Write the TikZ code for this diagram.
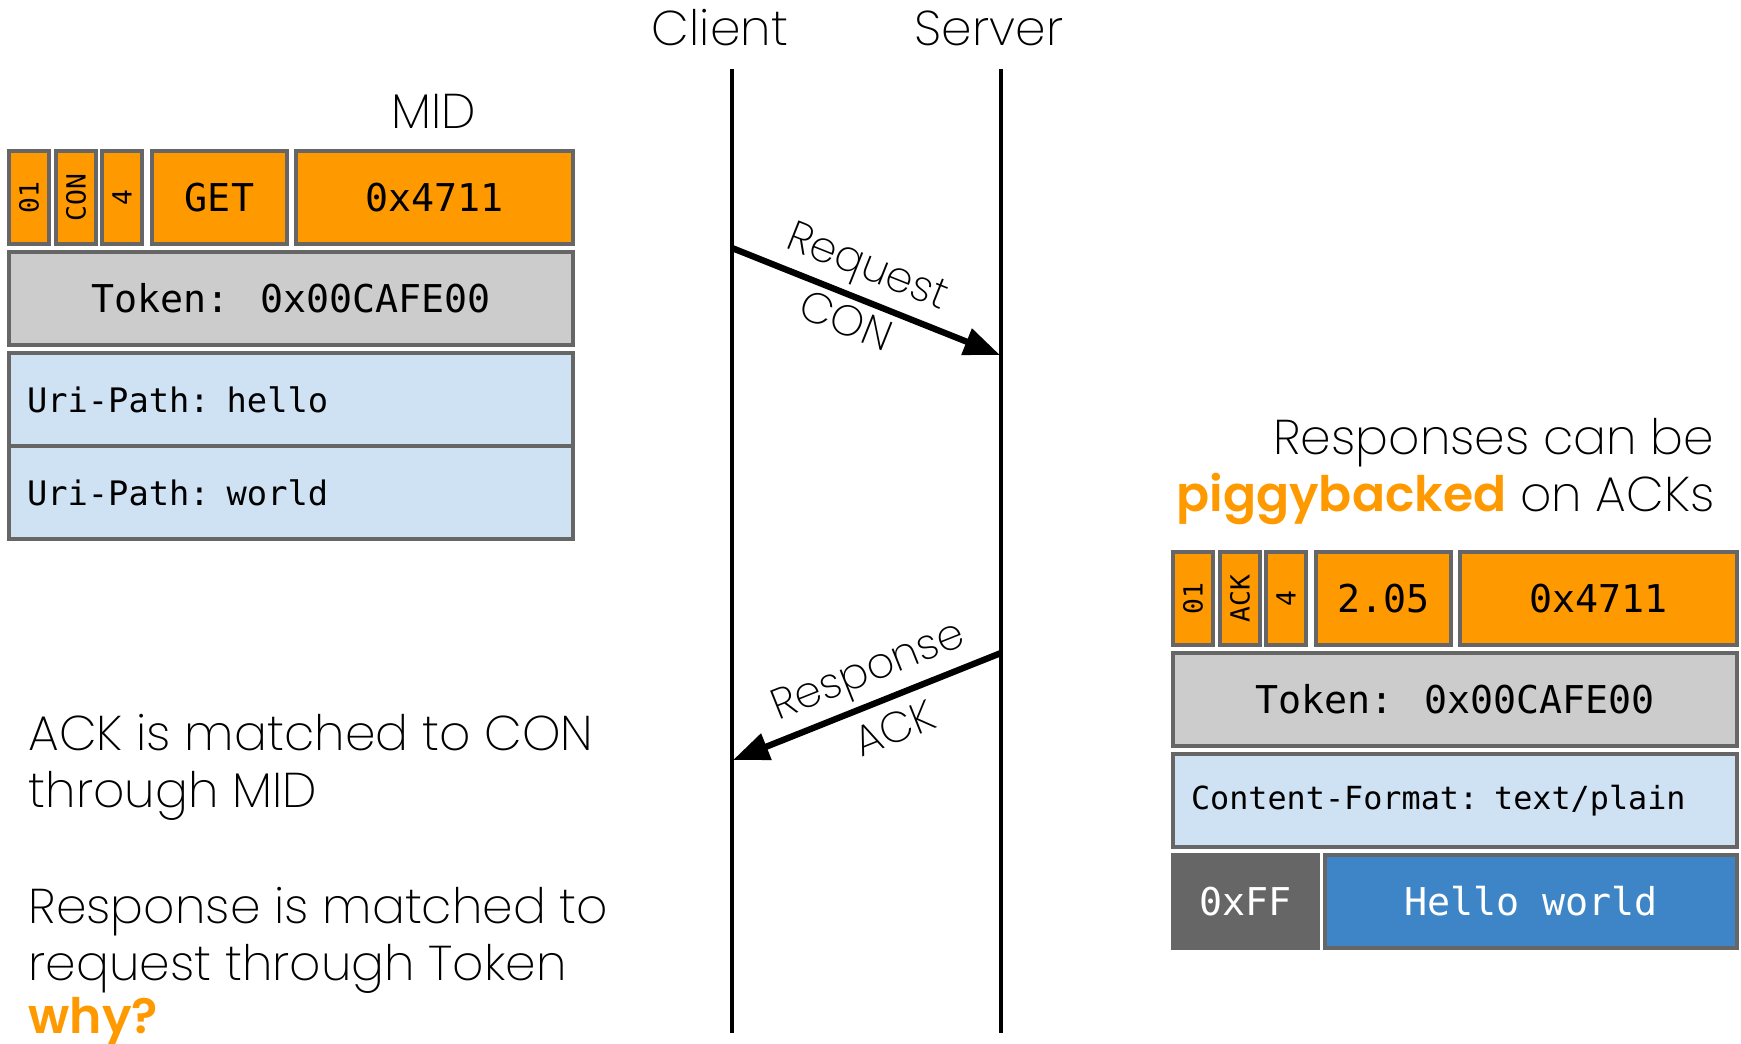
\documentclass[tikz,border=0pt]{standalone}
\usepackage{fontspec}
\setmainfont{Poppins ExtraLight}[BoldFont=Poppins SemiBold]
\newfontfamily\monofont{DejaVu Sans Mono}
\usepackage{graphicx}
\usepackage{tikz}
\usetikzlibrary{arrows.meta}
\definecolor{fieldorange}{HTML}{FF9900}
\definecolor{tokengray}{HTML}{CCCCCC}
\definecolor{optblue}{HTML}{CFE2F3}
\definecolor{edgegray}{HTML}{666666}
\definecolor{payblue}{HTML}{3D85C6}

\begin{document}
\begin{tikzpicture}[x=0.1mm,y=-0.1mm]
\tikzstyle{every node}+=[inner sep=0pt]
\tikzstyle{talk}=[font=\fontsize{13.9}{16.4}\selectfont]
\tikzstyle{msgtext}=[font=\fontsize{12.2}{14}\selectfont, sloped]
\tikzstyle{lifeline}=[line width=1pt]
\tikzstyle{msg}=[line width=1.8pt, -{Triangle[length=3.6mm,width=2.7mm]}]
\tikzstyle{field}=[draw=edgegray, line width=1.1pt, fill=fieldorange, minimum height=9.3mm, font=\monofont\fontsize{10.9}{13}\selectfont]
\tikzstyle{bits}=[field, minimum width=4mm, font=\monofont\fontsize{7.5}{9}\selectfont]
\tikzstyle{tokenfield}=[field, fill=tokengray, minimum width=56.4mm]
\tikzstyle{option}=[field, fill=optblue, text width=52.8mm, inner xsep=1.8mm, align=left, font=\monofont\fontsize{9.6}{11}\selectfont]
\useasboundingbox (0,0) rectangle (1741,1044);

\node[talk] (client) at (720,28) {Client};
\node[talk] (server) at (989,28) {Server};
\coordinate (clientTop) at (732,69);
\coordinate (clientEnd) at (732,1033);
\coordinate (serverTop) at (1001,69);
\coordinate (serverEnd) at (1001,1033);
\draw[lifeline] (clientTop) -- (clientEnd);
\draw[lifeline] (serverTop) -- (serverEnd);

\coordinate (reqFrom) at (732,248);
\coordinate (reqTo) at (1000,355);
\coordinate (ackFrom) at (1001,653);
\coordinate (ackTo) at (733,760);
\draw[msg] (reqFrom) -- node[msgtext, pos=0.46, above, inner sep=0.6mm] (reqname) {Request}
  node[msgtext, pos=0.46, below, inner sep=0.6mm] (reqtype) {CON} (reqTo);
\draw[msg] (ackFrom) -- node[msgtext, pos=0.45, above, inner sep=0.6mm] (ackname) {Response}
  node[msgtext, pos=0.44, below, inner sep=1.2mm] (acktype) {ACK} (ackTo);

\node[talk] (midtitle) at (434,111) {MID};
\node[bits] (reqver) at (29,197.5) {\rotatebox{90}{01}};
\node[bits] (reqtyp) at (76,197.5) {\rotatebox{90}{CON}};
\node[bits] (reqtkl) at (122,197.5) {\rotatebox{90}{4}};
\node[field, minimum width=13.5mm] (reqcode) at (219.5,197.5) {GET};
\node[field, minimum width=27.7mm] (reqmid) at (434.5,197.5) {0x4711};
\node[tokenfield] (reqtoken) at (291,298.5) {Token: 0x00CAFE00};
\node[option] (requri1) at (291,399.5) {Uri-Path: hello};
\node[option] (requri2) at (291,492.5) {Uri-Path: world};

\node[talk, anchor=base east] (note1) at (1715,454) {Responses can be};
\node[talk, anchor=base east] (note2) at (1715,511) {\textbf{\color{fieldorange}piggybacked} on ACKs};
\node[bits] (resver) at (1193,598.5) {\rotatebox{90}{01}};
\node[bits] (restyp) at (1240,598.5) {\rotatebox{90}{ACK}};
\node[bits] (restkl) at (1286,598.5) {\rotatebox{90}{4}};
\node[field, minimum width=13.5mm] (rescode) at (1383.5,598.5) {2.05};
\node[field, minimum width=27.7mm] (resmid) at (1598.5,598.5) {0x4711};
\node[tokenfield] (restoken) at (1455,699.5) {Token: 0x00CAFE00};
\node[option, font=\monofont\fontsize{9.05}{11}\selectfont] (resformat) at (1455,800.5) {Content-Format: text/plain};
\node[field, fill=edgegray, text=white, minimum width=14.5mm] (resmarker) at (1245.5,901.5) {0xFF};
\node[field, fill=payblue, text=white, minimum width=41.2mm] (respayload) at (1531,901.5) {Hello world};

\node[talk, anchor=base west] (match1) at (28,750) {ACK is matched to CON};
\node[talk, anchor=base west] (match2) at (28,807) {through MID};
\node[talk, anchor=base west] (match3) at (28,923) {Response is matched to};
\node[talk, anchor=base west] (match4) at (28,980) {request through Token};
\node[talk, anchor=base west] (match5) at (28,1033) {\textbf{\color{fieldorange}why?}};
\end{tikzpicture}
\end{document}
